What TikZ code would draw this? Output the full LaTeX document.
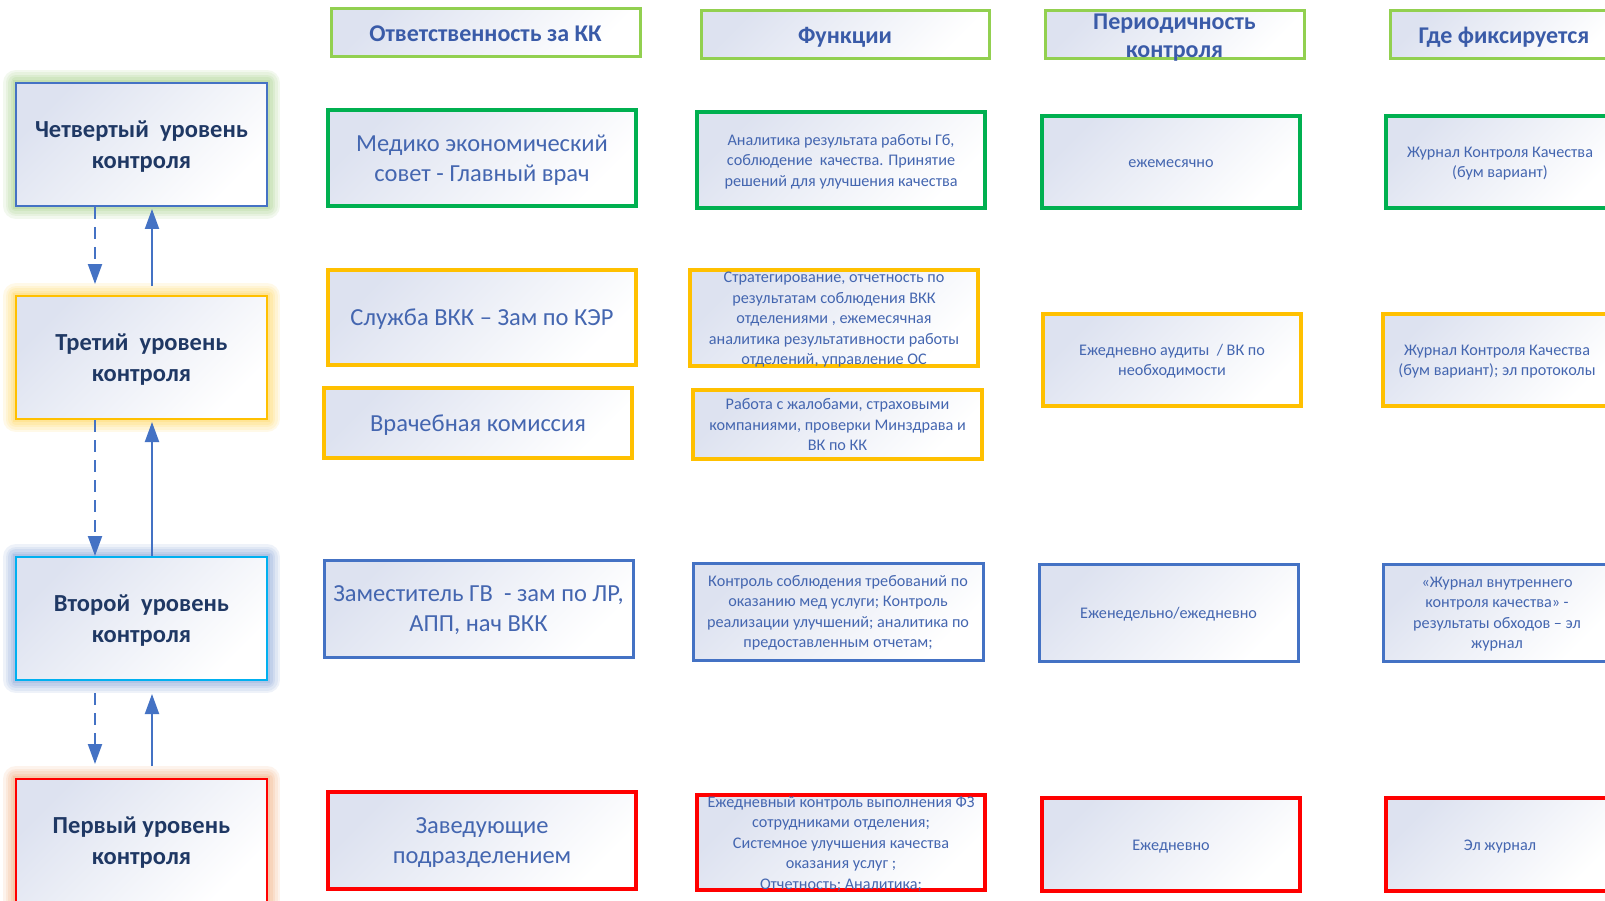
\documentclass[tikz,border=0pt]{standalone}
\usepackage{fontspec}
\setmainfont{Carlito}
\usetikzlibrary{arrows.meta}
\definecolor{gfill}{HTML}{DDE2F0}
\definecolor{hdrc}{HTML}{92D050}
\definecolor{grn}{HTML}{00B050}
\definecolor{ylw}{HTML}{FFC000}
\definecolor{blu}{HTML}{4472C4}
\definecolor{rd}{HTML}{FF0000}
\definecolor{cyn}{HTML}{00B0F0}
\definecolor{hdrtxt}{HTML}{3A5BA8}
\definecolor{txt}{HTML}{4466B0}
\definecolor{navy}{HTML}{1F3864}
\definecolor{glowgreen}{HTML}{A9D18E}
\definecolor{glowyellow}{HTML}{FFD966}
\definecolor{glowblue}{HTML}{8FAADC}
\definecolor{glowred}{HTML}{F4B183}
\tikzset{
  base/.style={rectangle, inner sep=0pt, align=center, top color=gfill, middle color=white!80!gfill,
     bottom color=white, shading angle=45, text=txt, text depth=0pt},
  hdr/.style={base, draw=hdrc, line width=3pt, text=hdrtxt, font=\fontsize{24}{28}\selectfont\bfseries,
     text height=#1},
  hdr/.default=16.4pt,
  big/.style={font=\fontsize{24.5}{30}\selectfont, text height=#1},
  big/.default=16.7pt,
  small/.style={font=\fontsize{16.2}{20.5}\selectfont, text height=#1},
  small/.default=11.1pt,
  rowg/.style={base, draw=grn, line width=3.5pt},
  rowy/.style={base, draw=ylw, line width=3.5pt},
  rowb/.style={base, draw=blu, line width=3pt},
  rowr/.style={base, draw=rd, line width=3.5pt},
  lvl/.style={base, line width=2pt, text=navy, font=\fontsize{24.5}{31}\selectfont\bfseries,
     minimum width=251pt, minimum height=123pt, text height=47.7pt},
  glow/.style={preaction={draw=#1, draw opacity=.15, line width=26pt, line join=round},
               preaction={draw=#1, draw opacity=.15, line width=21pt, line join=round},
               preaction={draw=#1, draw opacity=.18, line width=16pt, line join=round},
               preaction={draw=#1, draw opacity=.22, line width=11pt, line join=round},
               preaction={draw=#1, draw opacity=.3, line width=6pt}},
  uparr/.style={draw=blu, line width=2pt, -{Triangle[width=14pt,length=20pt]}},
  dnarr/.style={draw=blu, line width=2pt, dash pattern=on 12pt off 8pt, -{Triangle[width=14pt,length=20pt]}},
}
\begin{document}
\begin{tikzpicture}[x=1pt,y=-1pt]
\useasboundingbox (0,0) rectangle (1605,901);
\fill[white] (0,0) rectangle (1605,901);
% level boxes
\node[lvl, draw=blu, glow=glowgreen] (l4) at (141.5,144.5) {Четвертый\ \ уровень\\контроля};
\node[lvl, draw=ylw, glow=glowyellow] (l3) at (141.5,357.5) {Третий\ \ уровень\\контроля};
\node[lvl, draw=cyn, glow=glowblue] (l2) at (141.5,618.5) {Второй\ \ уровень\\контроля};
\node[lvl, draw=rd, glow=glowred] (l1) at (141.5,840.5) {Первый уровень\\контроля};
% arrows
\draw[dnarr, shorten >=11pt] ([xshift=-46.5pt]l4.south) -- ([xshift=-46.5pt]l3.north);
\draw[uparr, shorten <=9pt, shorten >=2pt] ([xshift=10.5pt]l3.north) -- ([xshift=10.5pt]l4.south);
\draw[dnarr] ([xshift=-46.5pt]l3.south) -- ([xshift=-46.5pt]l2.north);
\draw[uparr, shorten >=2pt] ([xshift=10.5pt]l2.north) -- ([xshift=10.5pt]l3.south);
\draw[dnarr, shorten <=12pt, shorten >=14pt] ([xshift=-46.5pt]l2.south) -- ([xshift=-46.5pt]l1.north);
\draw[uparr, shorten <=12pt, shorten >=13pt] ([xshift=10.5pt]l1.north) -- ([xshift=10.5pt]l2.south);
% headers
\node[hdr, minimum width=309pt, minimum height=48pt] (h1) at (485.5,33) {Ответственность за КК};
\node[hdr, minimum width=288pt, minimum height=48pt] (h2) at (845,35) {Функции};
\node[hdr=44.4pt, minimum width=259pt, minimum height=48pt] (h3) at (1174.5,35) {Периодичность\\контроля};
\node[hdr, minimum width=228pt, minimum height=48pt] (h4) at (1504,35) {Где фиксируется};
% row 4
\node[rowg, big=46.7pt, minimum width=308pt, minimum height=96pt] (r4a) at (482,158) {Медико экономический\\совет - Главный врач};
\node[rowg, small=52.1pt, minimum width=288pt, minimum height=96pt] (r4b) at (841,160) {Аналитика результата работы Гб,\\соблюдение\ \ качества. Принятие\\решений для улучшения качества};
\node[rowg, small, minimum width=258pt, minimum height=92pt] (r4c) at (1171,162) {ежемесячно};
\node[rowg, small=31.6pt, minimum width=228pt, minimum height=92pt] (r4d) at (1500,162) {Журнал Контроля Качества\\(бум вариант)};
% row 3
\node[rowy, big, minimum width=308pt, minimum height=95pt] (r3a) at (482,317.5) {Служба ВКК – Зам по КЭР};
\node[rowy, big, minimum width=308pt, minimum height=70pt] (r3e) at (478,423) {Врачебная комиссия};
\node[rowy, small=93.1pt, minimum width=288pt, minimum height=96pt] (r3b) at (834,318) {Стратегирование, отчетность по\\результатам соблюдения ВКК\\отделениями , ежемесячная\\аналитика результативности работы\\отделений, управление ОС};
\node[rowy, small=52.1pt, minimum width=289pt, minimum height=69pt] (r3f) at (837.5,424.5) {Работа с жалобами, страховыми\\компаниями, проверки Минздрава и\\ВК по КК};
\node[rowy, small=31.6pt, minimum width=258pt, minimum height=92pt] (r3c) at (1172,360) {Ежедневно аудиты\ \ / ВК по\\необходимости};
\node[rowy, small=31.6pt, minimum width=228pt, minimum height=92pt] (r3d) at (1497,360) {Журнал Контроля Качества\\(бум вариант); эл протоколы};
% row 2
\node[rowb, big=46.7pt, minimum width=309pt, minimum height=97pt] (r2a) at (478.5,608.5) {Заместитель ГВ\ \ - зам по ЛР,\\АПП, нач ВКК};
\node[rowb, small=72.6pt, minimum width=290pt, minimum height=97pt] (r2b) at (838,611.5) {Контроль соблюдения требований по\\оказанию мед услуги; Контроль\\реализации улучшений; аналитика по\\предоставленным отчетам;};
\node[rowb, small, minimum width=259pt, minimum height=97pt] (r2c) at (1168.5,612.5) {Еженедельно/ежедневно};
\node[rowb, small=72.6pt, minimum width=228pt, minimum height=97pt] (r2d) at (1497,612.5) {«Журнал внутреннего\\контроля качества» -\\результаты обходов – эл\\журнал};
% row 1
\node[rowr, big=46.7pt, minimum width=308pt, minimum height=97pt] (r1a) at (482,840.5) {Заведующие\\подразделением};
\node[rowr, small=93.1pt, minimum width=288pt, minimum height=95pt] (r1b) at (841,842.5) {Ежедневный контроль выполнения ФЗ\\сотрудниками отделения;\\Системное улучшения качества\\оказания услуг ;\\Отчетность; Аналитика;};
\node[rowr, small, minimum width=258pt, minimum height=93pt] (r1c) at (1171,844.5) {Ежедневно};
\node[rowr, small, minimum width=228pt, minimum height=93pt] (r1d) at (1500,844.5) {Эл журнал};
\end{tikzpicture}
\end{document}
